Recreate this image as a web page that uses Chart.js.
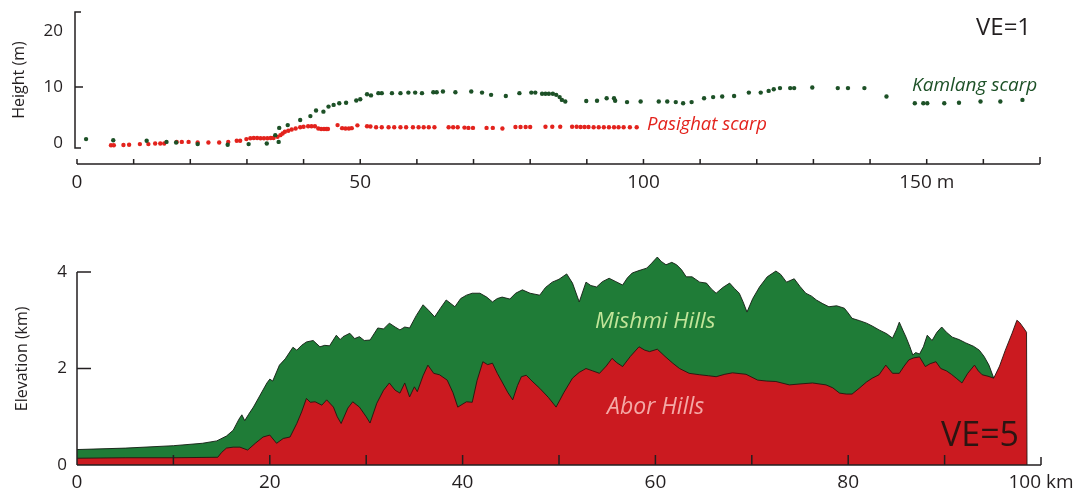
<!DOCTYPE html>
<html><head><meta charset="utf-8">
<script src="https://cdn.jsdelivr.net/npm/chart.js@4.4.1/dist/chart.umd.min.js"></script>
<style>
html,body{margin:0;padding:0;background:#fff;overflow:hidden;}
#w1{position:absolute;left:0;top:0;width:1080px;height:200px;}
#w2{position:absolute;left:0;top:200px;width:1080px;height:297px;}
</style></head>
<body>
<div id="w1"><canvas id="c1"></canvas></div>
<div id="w2"><canvas id="c2"></canvas></div>
<script>
// ---------- Top panel: scarp profiles (m) ----------
const kamlangX = [1.6,6.4,12.3,15.8,17.5,21.3,26.6,30.3,33.5,35.0,35.6,35.7,37.2,39.4,41.2,42.2,43.5,44.4,45.3,46.3,47.5,49.3,50.0,51.2,51.9,53.2,53.8,55.6,57.1,58.5,59.7,60.9,62.9,63.5,64.6,66.8,69.6,71.5,73.1,75.7,78.1,80.2,80.9,82.1,82.7,83.3,84.0,84.6,85.2,85.6,86.2,89.9,91.8,93.5,94.8,95.0,97.1,99.5,102.7,104.2,105.7,107.0,108.5,110.7,112.3,113.9,116.0,118.6,120.7,122.1,123.0,124.1,125.9,126.6,129.8,134.3,136.1,139.0,142.9,147.9,149.4,150.1,153.1,155.7,159.5,163.0,166.9];
const kamlangH = [0.7,0.5,0.4,0.2,0.1,-0.2,-0.3,-0.2,-0.1,1.4,0.2,2.7,3.2,4.1,4.8,5.8,5.6,6.5,6.8,7.1,7.2,7.6,7.8,8.7,8.5,8.9,8.9,8.9,8.9,9.0,9.0,8.9,9.05,9.05,9.2,9.05,9.2,9.0,8.6,8.4,8.9,9.0,9.0,8.8,8.8,8.8,8.8,8.6,8.2,7.7,7.4,7.5,7.55,8.0,8.0,7.55,7.3,7.4,7.4,7.4,7.3,7.1,7.3,8.0,8.2,8.3,8.4,9.0,9.0,9.3,9.6,9.8,9.8,9.8,9.9,9.8,9.8,9.8,8.3,7.1,7.1,7.1,7.1,7.2,7.4,7.4,7.7];
const pasighatX = [6.0,6.5,8.2,9.2,11.1,12.6,13.8,14.7,15.4,17.6,18.5,19.7,21.3,23.2,25.1,26.7,28.2,28.8,29.9,30.6,31.2,31.8,32.4,33.0,33.6,34.2,34.7,35.4,35.9,36.3,36.7,37.3,37.9,38.6,39.4,40.0,40.8,41.4,42.0,42.6,43.1,43.6,44.0,44.3,46.0,46.8,47.4,48.0,48.5,49.5,51.2,51.8,52.8,53.8,55.0,56.0,57.1,58.1,59.3,60.3,61.2,62.1,63.1,65.6,66.4,67.2,68.4,69.1,69.9,72.3,73.4,75.1,77.4,78.3,79.2,80.0,82.7,83.9,85.3,87.4,88.2,88.9,89.6,90.3,91.2,92.1,93.0,93.9,94.8,95.6,96.5,97.6,98.8];
const pasighatH = [-0.4,-0.4,-0.35,-0.3,-0.2,-0.2,-0.1,-0.1,-0.1,0.2,0.2,0.2,0.1,0.1,0.1,0.2,0.4,0.4,0.7,0.85,0.9,0.9,0.85,0.85,0.85,0.9,0.9,1.1,1.4,1.7,2.0,2.2,2.4,2.6,2.8,2.9,3.0,3.0,3.0,2.6,2.5,2.5,2.5,2.5,3.2,2.65,2.6,2.6,2.65,3.15,3.0,2.95,2.8,2.8,2.8,2.8,2.8,2.8,2.8,2.8,2.8,2.8,2.8,2.8,2.8,2.8,2.75,2.7,2.7,2.7,2.7,2.6,2.85,2.85,2.85,2.85,2.9,2.9,2.9,2.9,2.9,2.85,2.85,2.85,2.8,2.8,2.8,2.8,2.8,2.8,2.8,2.8,2.8];
const topYTicks = [0, 10, 20];

// ---------- Bottom panel: elevation profiles (km) ----------
const mishmiKm = [0,5,10,13,14.5,15.5,16.2,16.8,17.1,17.4,17.8,18.3,19.0,19.7,20.0,20.3,21.0,21.6,22.4,22.8,23.3,23.8,24.5,25.2,25.7,26.2,26.9,27.3,27.6,28.3,28.8,29.3,29.8,30.4,31.2,31.8,32.4,33.0,33.5,34.0,34.5,35.2,35.9,36.5,37.1,37.7,38.3,39.2,39.8,40.4,41.0,41.8,42.5,43.1,43.6,44.1,44.9,45.5,46.2,47.0,48.0,48.6,49.3,50.0,50.8,51.4,52.1,52.8,53.3,53.9,54.5,55.2,55.9,56.6,57.1,57.6,58.3,59.1,59.6,60.2,60.6,61.1,61.7,62.2,62.7,63.2,63.8,64.6,65.3,65.8,66.3,67.0,67.7,68.2,68.7,69.1,69.5,70.1,70.8,71.6,72.5,73.0,73.6,74.4,75.0,75.6,76.2,76.7,77.3,78.0,78.8,79.6,80.0,80.4,81.2,81.9,82.5,83.2,84.0,84.6,85.0,85.3,85.7,86.0,86.4,86.7,87.0,87.4,87.8,88.2,88.7,89.2,89.7,90.2,90.8,91.5,92.2,93.0,93.6,94.1,94.6,95.1,95.5,96.0];
const mishmiElev = [0.32,0.35,0.40,0.45,0.50,0.60,0.72,0.95,1.04,0.92,1.05,1.20,1.45,1.70,1.78,1.74,2.07,2.20,2.44,2.38,2.48,2.55,2.58,2.45,2.48,2.47,2.69,2.60,2.66,2.73,2.62,2.66,2.58,2.59,2.84,2.82,2.94,2.86,2.80,2.86,2.84,3.10,3.32,3.20,3.07,3.25,3.42,3.28,3.45,3.52,3.56,3.56,3.48,3.38,3.45,3.48,3.44,3.56,3.63,3.56,3.52,3.68,3.79,3.85,3.96,3.77,3.38,3.79,3.72,3.69,3.80,3.87,3.80,3.73,3.88,3.98,4.03,4.08,4.18,4.31,4.22,4.15,4.20,4.15,4.05,3.90,3.90,3.79,3.77,3.65,3.56,3.68,3.77,3.66,3.56,3.38,3.17,3.45,3.69,3.90,4.02,3.95,3.79,3.86,3.70,3.56,3.50,3.42,3.35,3.28,3.30,3.25,3.15,3.04,2.99,2.94,2.88,2.80,2.72,2.63,2.80,2.96,2.78,2.65,2.45,2.28,2.33,2.30,2.45,2.69,2.58,2.75,2.86,2.75,2.65,2.60,2.53,2.46,2.38,2.25,2.07,1.80,1.75,0];
const aborKm = [0,5,10,14.6,15.0,15.5,16.2,16.9,17.7,18.5,19.3,20.0,20.7,21.4,22.1,22.8,23.3,23.8,24.2,24.7,25.4,25.9,26.6,27.0,27.4,28.1,28.6,29.3,30.0,30.4,31.1,31.8,32.4,33.0,33.5,34.0,34.5,35.0,35.3,35.9,36.4,37.0,37.6,38.4,39.0,39.5,40.4,41.0,41.5,42.1,42.6,43.1,43.6,44.1,44.7,45.2,45.7,46.1,46.6,47.3,48.0,48.9,49.7,50.5,51.4,52.1,52.8,53.5,54.2,54.9,55.5,56.0,56.6,57.4,58.3,58.9,59.4,60.2,61.0,61.8,62.5,63.5,64.6,65.5,66.3,67.2,68.0,69.4,70.6,71.5,72.5,73.9,75.0,76.3,77.7,78.4,79.1,79.8,80.4,81.2,81.9,82.5,83.2,83.9,84.6,85.3,85.8,86.3,86.8,87.4,88.0,88.5,89.1,89.6,90.2,90.7,91.2,91.8,92.4,93.1,93.5,93.9,94.5,95.1,95.7,96.3,97.0,97.5,97.8,98.2,98.5,98.55];
const aborElev = [0.14,0.15,0.15,0.16,0.26,0.35,0.37,0.37,0.31,0.45,0.58,0.62,0.45,0.55,0.58,0.86,1.10,1.38,1.30,1.31,1.24,1.35,1.20,1.00,0.86,1.18,1.31,1.20,1.00,0.87,1.28,1.55,1.70,1.55,1.49,1.70,1.41,1.62,1.52,1.85,2.07,1.90,1.87,1.76,1.50,1.20,1.31,1.30,1.75,2.14,2.08,2.11,1.90,1.72,1.50,1.35,1.65,1.83,1.86,1.72,1.59,1.40,1.20,1.50,1.80,1.92,2.00,1.95,1.90,2.05,2.21,2.12,2.04,2.25,2.45,2.38,2.35,2.40,2.25,2.11,2.00,1.90,1.87,1.85,1.83,1.88,1.91,1.88,1.76,1.74,1.73,1.66,1.68,1.70,1.66,1.60,1.49,1.47,1.47,1.60,1.72,1.80,1.87,2.07,1.90,1.90,2.05,2.18,2.22,2.24,2.04,2.10,2.14,2.00,1.95,1.88,1.80,1.70,1.90,2.07,1.95,1.87,1.84,1.80,2.05,2.38,2.73,3.00,2.95,2.84,2.75,0];
const bottomYTicks = [0, 2, 4];

const FONT = "'Open Sans', 'DejaVu Sans', sans-serif";
const INK = '#231f20';
const pts = (xs, ys) => xs.map((x, i) => ({x: x, y: ys[i]}));

// ---------- Axis drawing plugins ----------
const topAxes = {
  id: 'topAxes',
  afterDatasetsDraw(chart) {
    const {ctx, scales: {x, y}} = chart;
    ctx.save();
    ctx.strokeStyle = INK; ctx.lineWidth = 1.5; ctx.lineCap = 'butt';
    const ax = x.left - 2;
    const yt = y.getPixelForValue(23.4), yb = y.getPixelForValue(-0.9);
    ctx.beginPath();
    ctx.moveTo(ax + 6, yt); ctx.lineTo(ax, yt); ctx.lineTo(ax, yb); ctx.lineTo(ax + 6, yb);
    const y10 = y.getPixelForValue(10);
    ctx.moveTo(ax, y10); ctx.lineTo(ax + 8, y10);
    ctx.stroke();
    const xa = 164;
    ctx.beginPath();
    ctx.moveTo(x.getPixelForValue(0), xa); ctx.lineTo(x.getPixelForValue(170), xa);
    for (let v = 0; v <= 170; v += 10) {
      const px = x.getPixelForValue(v);
      ctx.moveTo(px, xa); ctx.lineTo(px, xa - (v === 170 ? 7 : 5));
    }
    ctx.stroke();
    ctx.restore();
  },
  afterDraw(chart) {
    const {ctx} = chart;
    ctx.save();
    ctx.textBaseline = 'middle'; ctx.textAlign = 'left';
    ctx.fillStyle = INK; ctx.font = '24px ' + FONT;
    ctx.fillText('VE=1', 976, 28);
    ctx.fillStyle = '#1d5127'; ctx.font = 'italic 19px ' + FONT;
    ctx.fillText('Kamlang scarp', 912, 86);
    ctx.fillStyle = '#e3231d'; ctx.font = 'italic 18.5px ' + FONT;
    ctx.fillText('Pasighat scarp', 647, 125);
    ctx.restore();
  }
};

const bottomAxes = {
  id: 'bottomAxes',
  afterDatasetsDraw(chart) {
    const {ctx, scales: {x, y}} = chart;
    ctx.save();
    ctx.strokeStyle = INK; ctx.lineWidth = 1.5;
    const ax = x.left, y0 = y.getPixelForValue(0);
    ctx.beginPath();
    ctx.moveTo(ax, y.getPixelForValue(4)); ctx.lineTo(ax, y0);
    ctx.moveTo(ax, y.getPixelForValue(4)); ctx.lineTo(ax + 14, y.getPixelForValue(4));
    ctx.moveTo(ax, y.getPixelForValue(2)); ctx.lineTo(ax + 14, y.getPixelForValue(2));
    ctx.moveTo(ax, y0); ctx.lineTo(x.getPixelForValue(100), y0);
    for (let v = 10; v <= 100; v += 10) {
      const px = x.getPixelForValue(v);
      ctx.moveTo(px, y0); ctx.lineTo(px, y0 - (v === 100 ? 8 : 10));
    }
    ctx.stroke();
    ctx.restore();
  },
  afterDraw(chart) {
    const {ctx} = chart;
    ctx.save();
    ctx.textBaseline = 'middle'; ctx.textAlign = 'left';
    ctx.fillStyle = '#c3e59a'; ctx.font = 'italic 22.5px ' + FONT;
    ctx.fillText('Mishmi Hills', 595, 122);
    ctx.fillStyle = '#f4a9a6'; ctx.font = 'italic 23px ' + FONT;
    ctx.fillText('Abor Hills', 607, 207);
    ctx.fillStyle = '#2b1512'; ctx.font = '34px ' + FONT;
    ctx.fillText('VE=5', 941, 236);
    ctx.restore();
  }
};

// ---------- Top chart ----------
new Chart(document.getElementById('c1'), {
  type: 'scatter',
  data: {
    datasets: [
      {label: 'Kamlang scarp', data: pts(kamlangX, kamlangH), backgroundColor: '#1d5127', pointRadius: 2.2, pointBorderWidth: 0},
      {label: 'Pasighat scarp', data: pts(pasighatX, pasighatH), backgroundColor: '#e3231d', pointRadius: 2.2, pointBorderWidth: 0}
    ]
  },
  options: {
    responsive: true, maintainAspectRatio: false, animation: false, devicePixelRatio: 1,
    layout: {padding: {left: 0, right: 40, top: 11.4, bottom: 0}},
    plugins: {legend: {display: false}, tooltip: {enabled: false}},
    scales: {
      x: {
        type: 'linear', min: 0, max: 170,
        grid: {display: false, drawTicks: false}, border: {display: false},
        afterBuildTicks: s => { s.ticks = []; for (let v = 0; v <= 170; v += 10) s.ticks.push({value: v}); },
        afterFit: s => { s.height = 51.4; s.paddingLeft = 0; s.paddingRight = 0; },
        ticks: {autoSkip: false, maxRotation: 0, padding: 23, color: INK, font: {family: FONT, size: 19},
          callback: v => v % 50 === 0 ? (v === 150 ? '150 m' : String(v)) : ''}
      },
      y: {
        min: -1, max: 23.5,
        grid: {display: false, drawTicks: false}, border: {display: false},
        afterBuildTicks: s => { s.ticks = topYTicks.map(v => ({value: v})); },
        afterFit: s => { s.width = 77; s.paddingTop = 0; s.paddingBottom = 0; },
        ticks: {padding: 14, color: INK, font: {family: FONT, size: 17}},
        title: {display: true, text: 'Height (m)', color: INK, font: {family: FONT, size: 16}, padding: {top: 10, bottom: 0}}
      }
    }
  },
  plugins: [topAxes]
});

// ---------- Bottom chart ----------
new Chart(document.getElementById('c2'), {
  type: 'line',
  data: {
    datasets: [
      {label: 'Abor Hills', data: pts(aborKm, aborElev), order: 1, fill: 'origin',
        backgroundColor: '#cb1a20', borderColor: 'rgba(40,20,15,0.9)', borderWidth: 1, pointRadius: 0, tension: 0},
      {label: 'Mishmi Hills', data: pts(mishmiKm, mishmiElev), order: 2, fill: 'origin',
        backgroundColor: '#1f7c37', borderColor: 'rgba(20,30,20,0.9)', borderWidth: 1, pointRadius: 0, tension: 0}
    ]
  },
  options: {
    responsive: true, maintainAspectRatio: false, animation: false, devicePixelRatio: 1,
    layout: {padding: {left: 0, right: 39, top: 52.7, bottom: 0}},
    plugins: {legend: {display: false}, tooltip: {enabled: false}},
    scales: {
      x: {
        type: 'linear', min: 0, max: 100,
        grid: {display: false, drawTicks: false}, border: {display: false},
        afterBuildTicks: s => { s.ticks = []; for (let v = 0; v <= 100; v += 10) s.ticks.push({value: v}); },
        afterFit: s => { s.height = 32; s.paddingLeft = 0; s.paddingRight = 0; },
        ticks: {autoSkip: false, maxRotation: 0, padding: 6.6, color: INK, font: {family: FONT, size: 19},
          callback: v => v % 20 === 0 ? (v === 100 ? '100 km' : String(v)) : ''}
      },
      y: {
        min: 0, max: 4.4,
        grid: {display: false, drawTicks: false}, border: {display: false},
        afterBuildTicks: s => { s.ticks = bottomYTicks.map(v => ({value: v})); },
        afterFit: s => { s.width = 77; s.paddingTop = 0; s.paddingBottom = 0; },
        ticks: {padding: 10, color: INK, font: {family: FONT, size: 17}},
        title: {display: true, text: 'Elevation (km)', color: INK, font: {family: FONT, size: 16}, padding: {top: 13, bottom: 0}}
      }
    }
  },
  plugins: [bottomAxes]
});
</script>
</body></html>
